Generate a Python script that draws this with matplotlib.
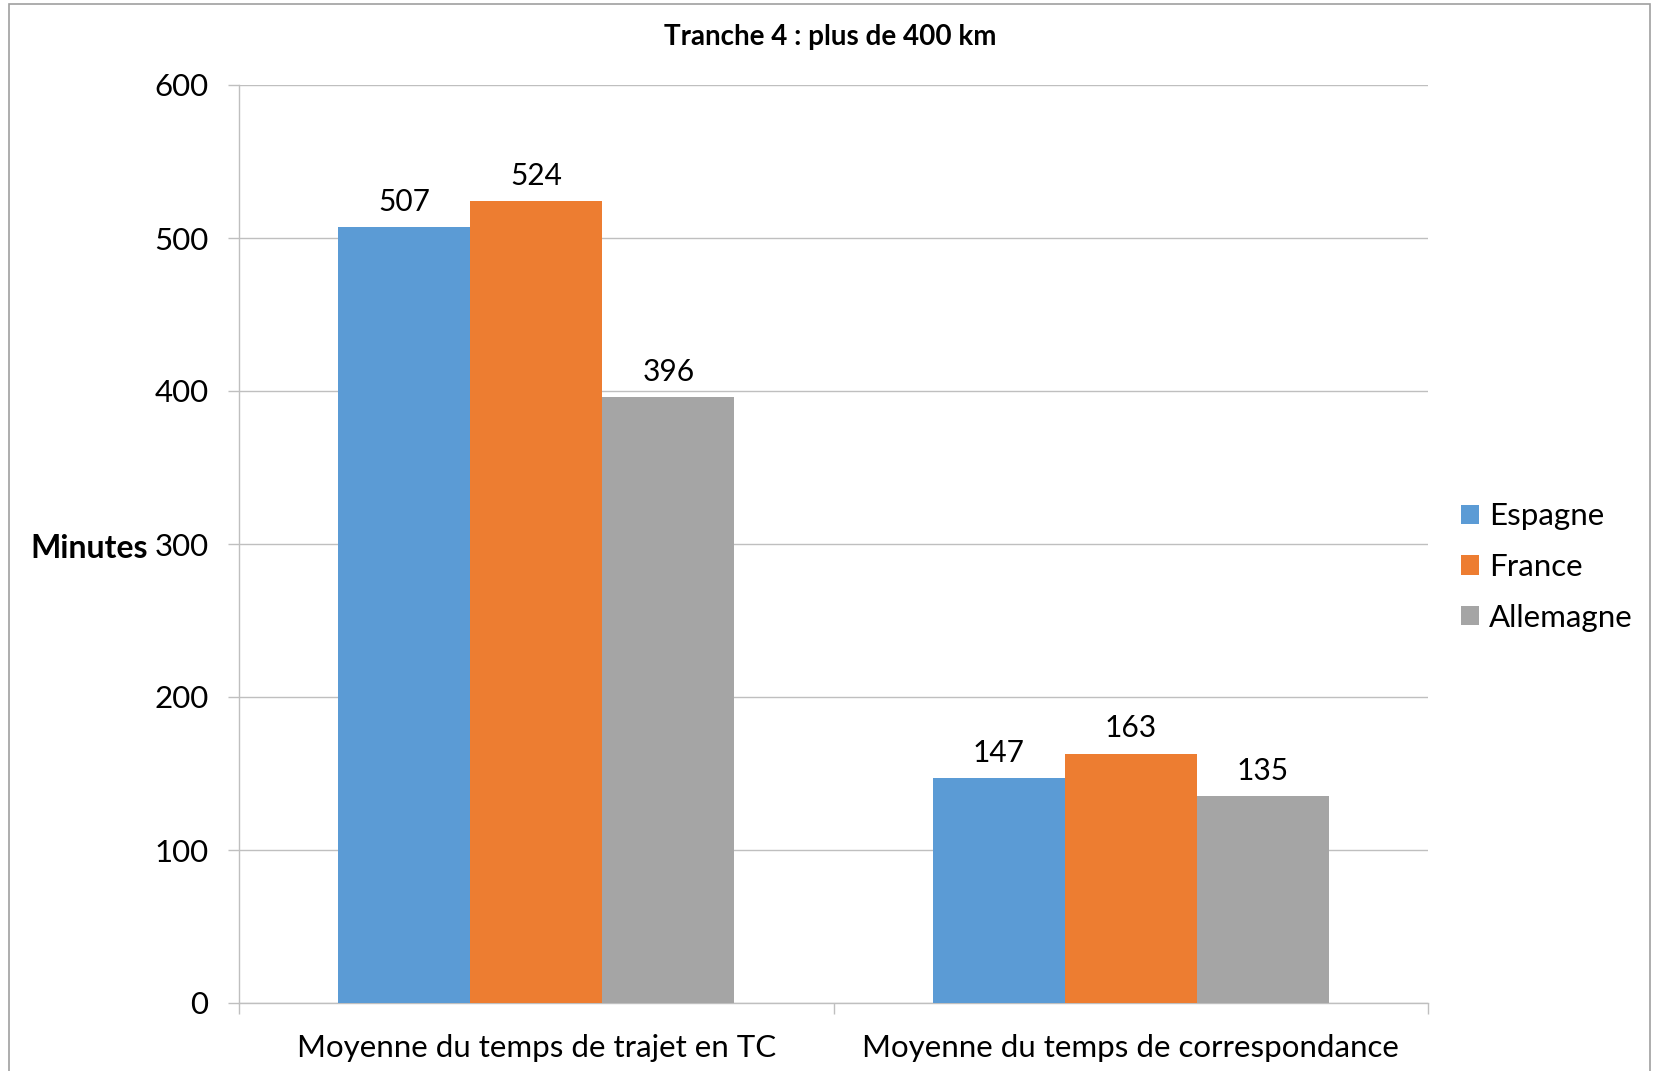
import matplotlib
matplotlib.use("Agg")
import matplotlib.pyplot as plt
from matplotlib.patches import Rectangle, Patch
import numpy as np

plt.rcParams['font.family'] = ['Lato', 'DejaVu Sans']

title = "Tranche 4 : plus de 400 km"
categories = ["Moyenne du temps de trajet en TC", "Moyenne du temps de correspondance"]
series_names = ["Espagne", "France", "Allemagne"]
espagne = [507, 147]
france = [524, 163]
allemagne = [396, 135]
colors = ["#5B9BD5", "#ED7D31", "#A5A5A5"]
yticks = [0, 100, 200, 300, 400, 500, 600]
ylabel = "Minutes"

W, H = 1653, 1071
fig = plt.figure(figsize=(W / 100, H / 100), dpi=100)
fig.patch.set_facecolor("white")

# outer frame
fig.add_artist(Rectangle((9 / W, -0.05), (1650 - 9) / W, 1.05 - 4 / H,
                         transform=fig.transFigure, fill=False,
                         edgecolor="#a0a0a0", linewidth=1.2))

ax = fig.add_axes([239 / W, 68 / H, (1428 - 239) / W, (1003 - 85) / H])
x = np.arange(len(categories))
bw = 0.2222
grid_c = "#bfbfbf"
for i, (vals, name, c) in enumerate(zip([espagne, france, allemagne], series_names, colors)):
    bars = ax.bar(x + (i - 1) * bw, vals, width=bw, color=c, label=name, zorder=3)
    for b, v in zip(bars, vals):
        ax.annotate(str(v), (b.get_x() + b.get_width() / 2, v), xytext=(0, 8),
                    textcoords="offset points", ha="center", va="bottom",
                    fontsize=21.5, color="black")

ax.set_xlim(-0.5, 1.5)
ax.set_ylim(0, 600)
ax.set_yticks(yticks)
ax.set_yticklabels([str(t) for t in yticks], fontsize=22.5)
ax.yaxis.grid(True, color=grid_c, linewidth=1.0, zorder=0)
ax.set_xticks(x)
ax.set_xticklabels(categories, fontsize=22.5)
ax.set_xticks([-0.5, 0.5, 1.5], minor=True)
ax.tick_params(axis="x", which="major", length=0, pad=22)
ax.tick_params(axis="x", which="minor", length=8, color=grid_c, width=1.0)
ax.tick_params(axis="y", which="major", length=8, color=grid_c, width=1.0, pad=14)
for s in ["top", "right"]:
    ax.spines[s].set_visible(False)
ax.spines["left"].set_color(grid_c)
ax.spines["bottom"].set_color(grid_c)
ax.spines["left"].set_linewidth(1.0)
ax.spines["bottom"].set_linewidth(1.0)

fig.text(148 / W, 1 - 548 / H, ylabel, ha="right", va="center",
         fontsize=23, fontweight="bold")
fig.text(830 / W, 1 - 37 / H, title, ha="center", va="center",
         fontsize=20, fontweight="bold")

handles = [Patch(facecolor=c, edgecolor="none") for c in colors]
fig.legend(handles, series_names, loc="center left",
           bbox_to_anchor=(1461 / W, 1 - 567 / H), frameon=False,
           fontsize=22.5, handlelength=0.58, handleheight=0.58,
           handletextpad=0.32, labelspacing=0.72, borderpad=0, borderaxespad=0)

fig.savefig("out.png", dpi=100, facecolor="white")
